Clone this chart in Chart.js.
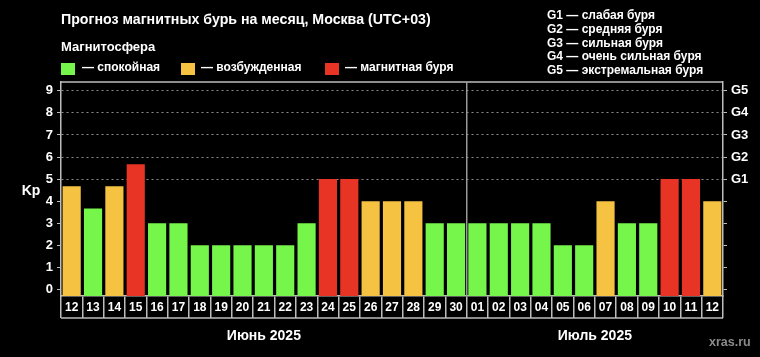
<!DOCTYPE html>
<html><head><meta charset="utf-8">
<script src="https://cdn.jsdelivr.net/npm/chart.js@4/dist/chart.umd.min.js"></script>
<style>
html,body{margin:0;padding:0;background:#000;}
#wrap{position:relative;width:760px;height:357px;background:#000;overflow:hidden;font-family:"Liberation Sans",Arial,sans-serif;font-weight:bold;color:#fff;}
#wrap canvas{position:absolute;left:0;top:0;}
.t{position:absolute;white-space:nowrap;line-height:1;}
.sq{position:absolute;width:14px;height:12px;}
</style></head><body>
<div id="wrap">
<canvas id="c" width="760" height="357"></canvas>
<div class="t" style="left:61px;top:12px;font-size:14.2px;">Прогноз магнитных бурь на месяц, Москва (UTC+03)</div>
<div class="t" style="left:61px;top:40px;font-size:13px;">Магнитосфера</div>
<div class="sq" style="left:61px;top:63px;background:#76F54B"></div>
<div class="t" style="left:82px;top:61px;font-size:12px;">— спокойная</div>
<div class="sq" style="left:181px;top:63px;background:#F5C242"></div>
<div class="t" style="left:201px;top:61px;font-size:12px;">— возбужденная</div>
<div class="sq" style="left:325px;top:63px;background:#E83424"></div>
<div class="t" style="left:345px;top:61px;font-size:12px;">— магнитная буря</div>
<div class="t" style="left:547px;top:9px;font-size:12px;line-height:13.75px;">G1 — слабая буря<br>G2 — средняя буря<br>G3 — сильная буря<br>G4 — очень сильная буря<br>G5 — экстремальная буря</div>
<div class="t" style="left:709px;top:336px;font-size:12.5px;color:#8a8a8a;">xras.ru</div>
</div>
<script>
const days = ['12','13','14','15','16','17','18','19','20','21','22','23','24','25','26','27','28','29','30',
              '01','02','03','04','05','06','07','08','09','10','11','12'];
const kp = [4.67,3.67,4.67,5.67,3,3,2,2,2,2,2,3,5,5,4,4,4,3,3,
            3,3,3,3,2,2,4,3,3,5,5,4];
const months = ['Июнь 2025','Июль 2025'];
const daysPerMonth = [19,12];
const yTicks = [0,1,2,3,4,5,6,7,8,9];
const gLabels = {5:'G1',6:'G2',7:'G3',8:'G4',9:'G5'};

const GREEN='#76F54B', ORANGE='#F5C242', RED='#E83424';
const colorFor = v => v >= 5 ? RED : (v >= 4 ? ORANGE : GREEN);
const Y_MIN = -0.3, Y_MAX = 9.4;
const LINE='#bdbdbd';
const CELL_H = 22;

Chart.defaults.font.family = '"Liberation Sans", Arial, sans-serif';
Chart.defaults.font.weight = 'bold';
Chart.defaults.color = '#fff';

const deco = {
  id:'deco',
  afterDraw(chart){
    const {ctx, chartArea:a} = chart;
    const x = chart.scales.x;
    ctx.save();
    ctx.strokeStyle = LINE; ctx.lineWidth = 1.5;
    ctx.beginPath(); ctx.moveTo(a.left, a.top); ctx.lineTo(a.right, a.top); ctx.stroke();
    ctx.beginPath(); ctx.moveTo(x.left, x.top + CELL_H); ctx.lineTo(x.right, x.top + CELL_H); ctx.stroke();
    let start = 0;
    ctx.fillStyle = '#fff';
    ctx.font = 'bold 14px "Liberation Sans", Arial, sans-serif';
    ctx.textAlign = 'center'; ctx.textBaseline = 'alphabetic';
    months.forEach((m, i) => {
      const end = start + daysPerMonth[i] - 1;
      const cx = (x.getPixelForValue(start) + x.getPixelForValue(end)) / 2;
      ctx.fillText(m, cx, 340);
      if (i > 0) {
        const sx = (x.getPixelForValue(start - 1) + x.getPixelForValue(start)) / 2;
        ctx.strokeStyle = '#9a9a9a'; ctx.lineWidth = 1.5;
        ctx.beginPath(); ctx.moveTo(sx, a.top); ctx.lineTo(sx, a.bottom); ctx.stroke();
      }
      start = end + 1;
    });
    ctx.font = 'bold 14px "Liberation Sans", Arial, sans-serif';
    ctx.textBaseline = 'middle';
    ctx.fillText('Kp', 31, (a.top + a.bottom) / 2 + 2);
    ctx.restore();
  }
};

new Chart(document.getElementById('c'), {
  type:'bar',
  data:{ labels: days, datasets:[{ data: kp, base: Y_MIN, backgroundColor: kp.map(colorFor), borderWidth:0,
    categoryPercentage:1, barPercentage:0.85 }]},
  options:{
    responsive:false, animation:false,
    layout:{ padding:{ top:82, left:0, right:0, bottom:0 } },
    plugins:{ legend:{display:false}, tooltip:{enabled:false}, title:{display:false} },
    scales:{
      x:{
        offset:true,
        grid:{ offset:true, drawOnChartArea:false, color:LINE, tickColor:LINE, tickLength:CELL_H, lineWidth:1.5 },
        border:{ color:LINE, width:1.5 },
        ticks:{ color:'#fff', font:{size:12, weight:'bold'}, padding:-18, maxRotation:0, autoSkip:false },
        afterFit: s => { s.height = 61; }
      },
      y:{
        position:'left', min:Y_MIN, max:Y_MAX,
        afterBuildTicks: s => { s.ticks = yTicks.map(v => ({value:v})); },
        grid:{ color: c => (c.tick && c.tick.value >= 5) ? '#8c8c8c' : 'rgba(0,0,0,0)', tickColor:LINE, tickLength:4, lineWidth:1 },
        border:{ color:LINE, width:1.5, dash:[2,3] },
        ticks:{ color:'#fff', font:{size:13, weight:'bold'}, padding:4 },
        afterFit: s => { s.width = 61; }
      },
      y2:{
        position:'right', min:Y_MIN, max:Y_MAX,
        afterBuildTicks: s => { s.ticks = yTicks.map(v => ({value:v})); },
        grid:{ drawOnChartArea:false, tickColor:LINE, tickLength:4 },
        border:{ color:LINE, width:1.5 },
        ticks:{ color:'#fff', font:{size:13, weight:'bold'}, padding:4, callback: v => gLabels[v] || '' },
        afterFit: s => { s.width = 37; }
      }
    }
  },
  plugins:[deco]
});
</script>
</body></html>
